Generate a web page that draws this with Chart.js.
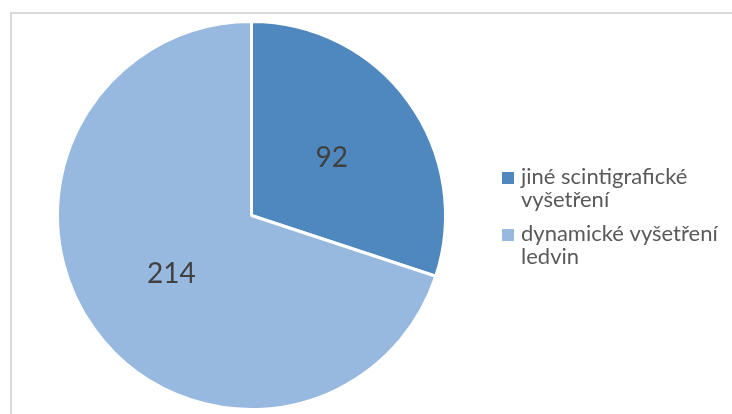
<!DOCTYPE html>
<html>
<head>
<meta charset="utf-8">
<script src="https://cdn.jsdelivr.net/npm/chart.js@4"></script>
<style>
  html, body { margin: 0; padding: 0; background: #ffffff; overflow: hidden; }
  #frame { position: absolute; left: 10px; top: 12px; width: 800px; height: 500px; border: 2px solid #d9d9d9; box-sizing: border-box; }
  #wrap { position: absolute; left: 0; top: 0; width: 732px; height: 414px; }
</style>
</head>
<body>
<div id="frame"></div>
<div id="wrap"><canvas id="c" width="732" height="414"></canvas></div>
<script>
const categories = [["jiné scintigrafické", "vyšetření"], ["dynamické vyšetření", "ledvin"]];
const values = [92, 214];
const colors = ["#4f88bf", "#98b9df"];

const overlay = {
  id: 'overlay',
  afterDraw(chart) {
    const ctx = chart.ctx;
    const meta = chart.getDatasetMeta(0);
    ctx.save();
    // value labels
    ctx.font = '28px Lato, "Liberation Sans", sans-serif';
    ctx.fillStyle = '#404040';
    ctx.textAlign = 'center';
    ctx.textBaseline = 'middle';
    meta.data.forEach((arc, i) => {
      const mid = (arc.startAngle + arc.endAngle) / 2;
      const r = arc.outerRadius * 0.51;
      const x = arc.x + Math.cos(mid) * r;
      const y = arc.y + Math.sin(mid) * r;
      ctx.fillText(String(values[i]), x, y);
    });
    // legend
    ctx.font = '22px Lato, "Liberation Sans", sans-serif';
    ctx.textAlign = 'left';
    ctx.textBaseline = 'middle';
    const lx = 502, ty = [177, 234], lh = 23;
    categories.forEach((lines, i) => {
      ctx.fillStyle = colors[i];
      ctx.fillRect(lx, ty[i] - 5, 12, 12);
      ctx.fillStyle = '#595959';
      lines.forEach((t, j) => ctx.fillText(t, lx + 19, ty[i] + j * lh));
    });
    ctx.restore();
  }
};

new Chart(document.getElementById('c'), {
  type: 'pie',
  data: {
    labels: categories.map(l => l.join(' ')),
    datasets: [{
      data: values,
      backgroundColor: colors,
      borderColor: '#ffffff',
      borderWidth: 3
    }]
  },
  options: {
    responsive: false,
    animation: false,
    layout: { padding: { left: 56, top: 20, right: 285, bottom: 3 } },
    plugins: { legend: { display: false }, tooltip: { enabled: false } }
  },
  plugins: [overlay]
});
</script>
</body>
</html>
